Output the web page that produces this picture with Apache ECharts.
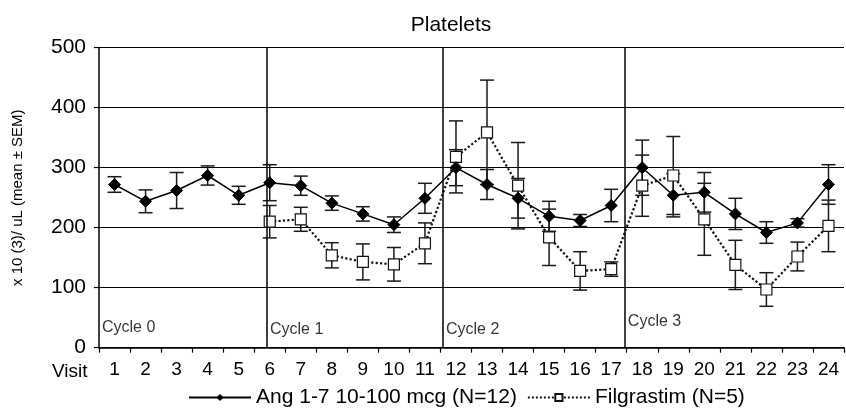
<!DOCTYPE html>
<html>
<head>
<meta charset="utf-8">
<script src="https://cdn.jsdelivr.net/npm/echarts@6/dist/echarts.min.js"></script>
<style>html,body{margin:0;padding:0;background:#fff}#c{width:846px;height:418px}</style>
</head>
<body>
<div id="c"></div>
<script>
const visits = ['1','2','3','4','5','6','7','8','9','10','11','12','13','14','15','16','17','18','19','20','21','22','23','24'];
const angMean = [272,244,262,287,254,275,270,241,223,205,249,300,272,249,219,212,237,300,254,259,223,192,208,272];
const angSem  = [13,19,30,16,15,30,16,12,12,13,25,30,25,33,25,10,27,46,36,33,26,18,7,33];
const filMean = [null,null,null,null,null,210,214,154,143,139,174,318,359,270,184,128,131,270,287,214,138,97,152,203];
const filSem  = [null,null,null,null,null,27,20,21,30,28,34,60,87,72,47,32,12,51,65,60,41,28,24,43];
const yTicks = [0,100,200,300,400,500];
const cycleNames = ['Cycle 0','Cycle 1','Cycle 2','Cycle 3'];
const cycleStarts = [0, 5.41, 11.08, 16.94];   // position on visit scale (0..24)
const cycleLabelY = [34, 30, 31, 43];
const angName = 'Ang 1-7 10-100 mcg (N=12)';
const filName = 'Filgrastim (N=5)';

const FONT = 'Liberation Sans, Arial, sans-serif';

function errData(mean, sem){
  const out = [];
  mean.forEach((m,i)=>{ if(m!=null && sem[i]!=null) out.push([i, m-sem[i], m+sem[i]]); });
  return out;
}
function errRender(params, api){
  const x = api.value(0);
  const top = api.coord([x, api.value(2)]);
  const bot = api.coord([x, api.value(1)]);
  const w = 7;
  const st = {stroke:'#1a1a1a', lineWidth:1.5};
  return {type:'group', children:[
    {type:'line', shape:{x1:top[0],y1:top[1],x2:bot[0],y2:bot[1]}, style:st},
    {type:'line', shape:{x1:top[0]-w,y1:top[1],x2:top[0]+w,y2:top[1]}, style:st},
    {type:'line', shape:{x1:bot[0]-w,y1:bot[1],x2:bot[0]+w,y2:bot[1]}, style:st}
  ]};
}

const chart = echarts.init(document.getElementById('c'), null, {renderer:'canvas'});
chart.setOption({
  backgroundColor:'#fff',
  animation:false,
  textStyle:{fontFamily:FONT},
  title:{text:'Platelets', left:446, textAlign:'center', top:10,
    textStyle:{fontFamily:FONT, fontSize:21, fontWeight:'normal', color:'#000'}},
  grid:{left:99, right:2, top:47.7, bottom:70.3, containLabel:false},
  legend:{bottom:5, left:183, itemWidth:62, itemHeight:9, itemGap:10,
    data:[angName, filName],
    textStyle:{fontFamily:FONT, fontSize:21, color:'#000'}},
  xAxis:[{
    type:'category', data:visits, boundaryGap:true,
    axisLine:{lineStyle:{color:'#000', width:1.5}},
    axisTick:{show:true, length:5, lineStyle:{color:'#000', width:1.2}},
    axisLabel:{color:'#000', fontSize:19, margin:13, fontFamily:FONT, interval:0},
    splitLine:{show:false}
  },{
    type:'value', min:0, max:24, show:false
  }],
  yAxis:{
    type:'value', min:yTicks[0], max:yTicks[yTicks.length-1], interval:100,
    name:'x 10 (3)/ uL (mean ± SEM)', nameLocation:'middle', nameGap:74, nameRotate:90,
    nameTextStyle:{fontFamily:FONT, fontSize:15, color:'#000'},
    axisLine:{show:true, lineStyle:{color:'#000', width:1.5}},
    axisTick:{show:true, length:5, lineStyle:{color:'#000', width:1.2}},
    axisLabel:{color:'#000', fontSize:21, margin:13, fontFamily:FONT},
    splitLine:{show:true, lineStyle:{color:'#000', width:1.2}}
  },
  graphic:[{type:'text', left:52, top:362, style:{text:'Visit', font:'19px '+FONT, fill:'#000'}}],
  series:[
    {
      name:'cycles', type:'scatter', xAxisIndex:1, symbolSize:0, silent:true,
      data: cycleNames.map((n,i)=>({value:[cycleStarts[i], cycleLabelY[i]], name:n})),
      label:{show:true, position:'right', distance:3, formatter:p=>p.name,
        fontFamily:FONT, fontSize:16, color:'#000'},
      markLine:{silent:true, symbol:['none','none'], label:{show:false},
        lineStyle:{color:'#000', width:1.5, type:'solid'},
        data: cycleStarts.slice(1).map(v=>({xAxis:v}))},
      z:1
    },
    {
      name:'angErr', type:'custom', renderItem:errRender, data:errData(angMean, angSem),
      encode:{x:0, y:[1,2]}, z:2, silent:true
    },
    {
      name:'filErr', type:'custom', renderItem:errRender, data:errData(filMean, filSem),
      encode:{x:0, y:[1,2]}, z:2, silent:true
    },
    {
      name:filName, type:'line', data:filMean, connectNulls:false,
      symbol:'rect', symbolSize:11,
      lineStyle:{color:'#111', width:2.2, type:'dotted'},
      itemStyle:{color:'#fff', borderColor:'#111', borderWidth:1.2},
      z:3
    },
    {
      name:angName, type:'line', data:angMean,
      symbol:'diamond', symbolSize:12,
      lineStyle:{color:'#000', width:1.5, type:'solid'},
      itemStyle:{color:'#000', borderColor:'#000'},
      z:4
    }
  ]
});
</script>
</body>
</html>
